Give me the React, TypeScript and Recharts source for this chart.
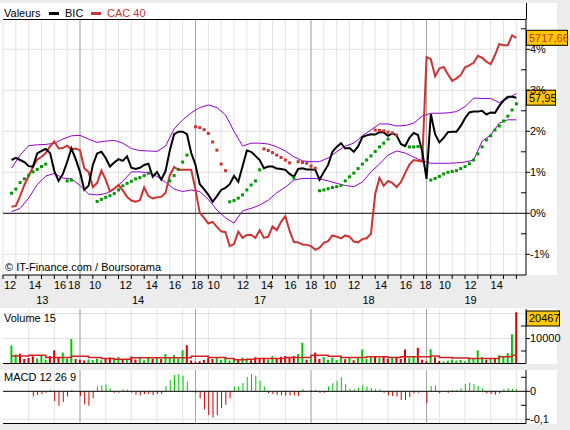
import React from "react";
import {
  ComposedChart,
  Line,
  Bar,
  Cell,
  Scatter,
  XAxis,
  YAxis,
  CartesianGrid,
  ReferenceLine,
} from "recharts";

const FONT = "'Liberation Sans', Arial, sans-serif";

// x is counted in trading hours from 12:00 on the 13th, one bar every 20 minutes
const BARS_PER_HOUR = 3;
const FIRST_BAR = 2;
const X_MAX = 40.75;

// % change since the start of the period
const bicPct = [
  1.3, 1.35, 1.3, 1.25, 1.15, 1.14, 1.46, 1.52, 1.57, 1.47,
  1.03, 0.79, 0.96, 1.25, 1.58, 1.32, 1.01, 0.57, 0.67, 1.18,
  1.46, 1.5, 1.35, 1.14, 1.24, 1.32, 1.28, 1.39, 1.11, 1.08,
  1.11, 1.18, 1.21, 0.89, 1.01, 0.82, 1.03, 1.54, 1.93, 1.99,
  1.99, 1.93, 1.47, 1.18, 0.71, 0.59, 0.45, 0.28, 0.42, 0.57,
  0.62, 0.71, 0.91, 0.77, 1.15, 1.53, 1.5, 1.4, 1.3, 1.1,
  1.14, 1.14, 1.09, 1.08, 1.06, 0.96, 0.89, 1.08, 1.1, 1.07,
  1.07, 1.06, 0.82, 1.01, 1.18, 1.5, 1.62, 1.71, 1.58, 1.59,
  1.5, 1.63, 1.86, 1.9, 1.93, 1.92, 1.98, 1.97, 1.89, 1.95,
  1.9, 1.69, 1.64, 1.84, 1.96, 1.91, 1.5, 0.84, 2.42, 1.93,
  1.73, 1.84, 1.98, 1.99, 1.99, 2.13, 2.32, 2.46, 2.48, 2.48,
  2.5, 2.41, 2.46, 2.45, 2.62, 2.75, 2.84, 2.84, 2.82,
];

const cacPct = [
  0.16, 0.18, 0.42, 0.69, 0.91, 1.13, 1.31, 1.38, 1.47, 1.63,
  1.75, 1.58, 1.59, 1.65, 1.56, 1.58, 1.54, 1.1, 1.01, 0.64,
  0.74, 1.04, 0.82, 0.53, 0.6, 0.69, 0.56, 0.4, 0.31, 0.28,
  0.32, 0.63, 0.42, 0.36, 0.39, 0.4, 0.5, 0.93, 1.13, 1.06,
  1.06, 1.06, 1.06, 0.57, 0.01, -0.11, -0.25, -0.21, -0.33, -0.44,
  -0.46, -0.8, -0.75, -0.45, -0.6, -0.53, -0.53, -0.6, -0.41, -0.6,
  -0.57, -0.32, -0.41, -0.21, -0.07, -0.43, -0.7, -0.71, -0.76, -0.77,
  -0.8, -0.89, -0.84, -0.72, -0.68, -0.54, -0.57, -0.61, -0.54, -0.57,
  -0.69, -0.71, -0.63, -0.61, -0.5, 0.47, 0.86, 0.67, 0.79, 0.74,
  0.64, 0.76, 0.98, 1.19, 1.3, 1.28, 1.26, 3.81, 3.76, 3.34,
  3.53, 3.57, 3.39, 3.23, 3.29, 3.37, 3.56, 3.61, 3.67, 3.84,
  3.79, 3.7, 3.64, 3.86, 4.13, 4.1, 4.1, 4.34, 4.28,
];

// Bollinger bands, one value every 2 bars
const bandUpper = [
  1.1, 1.42, 1.65, 1.67, 1.68, 1.71, 1.81, 1.89, 1.9, 1.81,
  1.73, 1.76, 1.78, 1.71, 1.58, 1.53, 1.52, 1.51, 1.64, 2.06,
  2.28, 2.45, 2.58, 2.64, 2.58, 2.4, 2.0, 1.64, 1.71, 1.71,
  1.69, 1.62, 1.52, 1.38, 1.28, 1.26, 1.26, 1.35, 1.5, 1.64,
  1.71, 1.89, 2.03, 2.18, 2.18, 2.13, 2.14, 2.2, 2.37, 2.44,
  2.44, 2.45, 2.48, 2.6, 2.81, 2.8, 2.8, 2.7, 2.8, 2.92,
];
const bandLower = [
  0.04, 0.12, 0.37, 0.7, 0.91, 0.97, 0.86, 0.84, 0.68, 0.47,
  0.45, 0.48, 0.6, 0.78, 1.01, 1.01, 0.98, 0.9, 0.76, 0.59,
  0.53, 0.57, 0.53, 0.34, 0.08, -0.11, -0.24, 0.06, 0.12, 0.2,
  0.32, 0.5, 0.64, 0.81, 0.85, 0.85, 0.84, 0.79, 0.73, 0.68,
  0.65, 0.76, 1.01, 1.2, 1.42, 1.52, 1.47, 1.37, 1.28, 1.22,
  1.22, 1.22, 1.23, 1.25, 1.3, 1.76, 1.91, 2.2, 2.28, 2.28,
];

// parabolic SAR, runs of bars below (green) and above (red) the price
const sarBelow = [
  { from: 2, vals: [0.49, 0.59, 0.75, 0.84, 0.93, 1.01, 1.07, 1.14, 1.2] },
  { from: 15, vals: [0.79, 0.81] },
  { from: 22, vals: [0.29, 0.34, 0.39, 0.43, 0.48, 0.57, 0.67, 0.73, 0.78, 0.84, 0.87, 0.92, 0.98] },
  { from: 39, vals: [0.79, 0.92, 1.07, 1.25, 1.42] },
  { from: 53, vals: [0.28, 0.31, 0.37, 0.45, 0.57, 0.69, 0.79, 1.06] },
  { from: 68, vals: [0.86] },
  {
    from: 74,
    vals: [0.55, 0.57, 0.6, 0.63, 0.65, 0.68, 0.79, 0.89, 0.98, 1.09, 1.2, 1.3, 1.4, 1.51, 1.62, 1.71, 1.81],
  },
  { from: 95, vals: [1.62, 1.62, 1.63] },
  {
    from: 100,
    vals: [0.81, 0.85, 0.9, 0.96, 1.0, 1.02, 1.04, 1.09, 1.14, 1.21, 1.3, 1.45, 1.62, 1.79, 1.89, 2.03, 2.13, 2.25, 2.37, 2.52, 2.67],
  },
];
const sarAbove = [
  { from: 45, vals: [2.11, 2.09, 2.04, 1.95, 1.74, 1.54, 1.2, 1.04] },
  { from: 61, vals: [1.57, 1.53, 1.48, 1.42, 1.36, 1.3, 1.23] },
  { from: 69, vals: [1.26, 1.24, 1.22, 1.15, 1.1] },
  { from: 87, vals: [2.03, 2.02, 2.01, 1.98, 1.96, 1.91] },
];

const volume = [
  7200, 3600, 3900, 1800, 2200, 2900, 2000, 3200, 1500, 3000,
  5300, 2300, 4400, 2000, 9800, 1800, 1500, 1200, 1600, 1400,
  2000, 1300, 1800, 2400, 1500, 2600, 1400, 1900, 2800, 1600,
  2200, 1300, 2700, 1900, 2400, 1800, 3800, 2500, 3300, 2000,
  5300, 7300, 1200, 600, 900, 1400, 2100, 1800, 2200, 1500,
  2600, 1200, 2000, 1700, 2400, 1900, 1300, 2500, 1800, 2300,
  1600, 2900, 2000, 2700, 3000, 2200, 3000, 3800, 8300, 1500,
  2000, 4400, 1800, 2600, 1500, 2400, 1400, 2800, 1700, 2500,
  1300, 2200, 5600, 1800, 2700, 3000, 2300, 2800, 1900, 2600,
  2400, 1800, 5600, 2200, 2800, 6300, 1500, 900, 5700, 2500,
  1000, 800, 1100, 1600, 1200, 1400, 900, 1800, 2000, 5300,
  2600, 1500, 2100, 1800, 3300, 2800, 4200, 11700, 20467,
];

const volumeAvg15 = [
  3000, 3000, 3000, 3000, 3300, 3300, 3300, 3300, 2400, 2400,
  2400, 2400, 2400, 2400, 2900, 2900, 2900, 2900, 2400, 2400,
  2400, 2000, 2000, 2000, 1700, 1700, 1700, 1700, 2300, 2300,
  2300, 2300, 2300, 2300, 2300, 2300, 2300, 2300, 2300, 2300,
  2300, 2300, 2900, 2900, 2900, 2900, 2400, 2400, 2400, 2400,
  2000, 2000, 1500, 1500, 1500, 1700, 1700, 2000, 2000, 2000,
  2000, 2000, 2000, 2000, 2400, 2400, 2400, 2400, 2400, 2400,
  3300, 3300, 3300, 3300, 2900, 2900, 2900, 2400, 2400, 2400,
  2400, 2400, 2400, 2700, 2700, 2700, 2700, 2700, 2400, 2400,
  2400, 2700, 2700, 2700, 2700, 2700, 2700, 2700, 3000, 3000,
  2400, 2400, 2400, 2200, 2200, 2200, 2200, 2000, 2000, 2000,
  2000, 2000, 2000, 2000, 2700, 2700, 2700, 3300, 4400,
];

const macdHist = [
  null, null, null, null, null, -0.019, -0.013, -0.01, -0.005, 0.005,
  -0.035, -0.052, -0.038, -0.019, 0.005, null, -0.017, -0.046, -0.052, -0.025,
  0.017, 0.021, 0.024, 0.01, -0.005, -0.005, 0.007, 0.006, -0.005, -0.012,
  -0.015, -0.01, -0.01, -0.013, -0.01, -0.01, 0.019, 0.04, 0.058, 0.062,
  0.056, 0.035, null, -0.005, -0.025, -0.065, -0.085, -0.094, -0.085, -0.06,
  -0.048, -0.025, 0.017, 0.017, 0.03, 0.052, 0.062, 0.056, 0.038, 0.017,
  -0.007, -0.01, -0.012, -0.014, -0.015, -0.015, -0.015, -0.017, 0.007, null,
  0.005, 0.005, -0.005, -0.005, 0.017, 0.029, 0.038, 0.05, 0.025, 0.008,
  0.007, 0.013, 0.023, 0.017, 0.013, 0.007, 0.007, -0.005, -0.015, -0.017,
  -0.019, -0.031, -0.031, -0.021, -0.008, -0.005, null, -0.043, 0.019, 0.02,
  -0.007, null, -0.005, 0.005, 0.005, 0.011, 0.026, 0.031, 0.026, 0.019,
  0.01, -0.007, -0.01, -0.012, -0.007, 0.007, 0.011, 0.008, 0.007,
];

const lastBic = "57,95";
const lastCac = "5717,66";
const lastVolume = "20467";

const hourTickPos = [
  0.55, 2.49, 4.45, 5.55, 7.17, 9.56, 11.59, 13.4, 15.12, 16.42, 18.7, 20.57,
  22.4, 24.01, 25.48, 27.35, 29.45, 31.4, 32.92, 34.42, 36.43, 38.47,
];
const hourTickText = [
  "12", "14", "16", "18", "10", "12", "14", "16", "18", "10", "12", "14",
  "16", "18", "10", "12", "14", "16", "18", "10", "12", "14",
];
const dayTickPos = [3.06, 10.52, 20.03, 28.48, 36.43];
const dayTickText = ["13", "14", "17", "18", "19"];
const dayBreaks = [6, 15, 24, 33];
const hourGrid = Array.from({ length: 41 }, (_, k) => k);
const xTicks = [...hourGrid, ...hourTickPos, ...dayTickPos];

const pctTicks = [-1, -0.5, 0, 0.5, 1, 1.5, 2, 2.5, 3, 3.5, 4, 4.5];
const volTicks = [5000, 10000, 15000];
const macdTicks = [-0.1, -0.05, 0, 0.05];

const GREEN = "#00c800";
const RED = "#d00000";
const CAC_RED = "#cc3333";
const PURPLE = "#9400d3";
const GRID = "#e2e2e2";
const DAY_GRID = "#a6a6a6";

const xOf = (i: number) => i / BARS_PER_HOUR;

const priceData = bicPct.map((v, k) => ({ x: xOf(FIRST_BAR + k), bic: v, cac: cacPct[k] }));
const bandData = bandUpper.map((v, k) => ({ x: xOf(FIRST_BAR + 2 * k), up: v, lo: bandLower[k] }));
const toDots = (runs: { from: number; vals: number[] }[]) =>
  runs.flatMap((r) => r.vals.map((v, k) => ({ x: xOf(r.from + k), y: v })));
const sarBelowDots = toDots(sarBelow);
const sarAboveDots = toDots(sarAbove);
const volData = volume.map((v, k) => ({
  x: xOf(FIRST_BAR + k),
  vol: v,
  ma: volumeAvg15[k],
  up: k === 0 || bicPct[k] >= bicPct[k - 1],
}));
const macdData = macdHist.map((v, k) => ({ x: xOf(FIRST_BAR + k), macd: v }));

const fmtNum = (v: number) => String(v).replace(".", ",");

function rightTick(isMajor: (v: number) => boolean, fmt: (v: number) => string) {
  return (props: any) => {
    const { x, y, payload } = props;
    const v = payload.value;
    if (isMajor(v)) {
      return (
        <g>
          <line x1={x} x2={x + 4} y1={y} y2={y} stroke="#000" />
          <text x={x + 4} y={y} dy="0.35em" fontSize={11} fontFamily={FONT} fill="#000">
            {fmt(v)}
          </text>
        </g>
      );
    }
    return <line x1={x - 5} x2={x} y1={y} y2={y} stroke="#000" />;
  };
}

// one axis carries the hour marks, the hour labels and the day labels
const nGrid = hourGrid.length;
const nHour = hourTickPos.length;
const timeTick = (props: any) => {
  const { x, y, index } = props;
  if (index < nGrid) return <line x1={x} x2={x} y1={y} y2={y + 4} stroke="#000" />;
  const isHour = index < nGrid + nHour;
  const label = isHour ? hourTickText[index - nGrid] : dayTickText[index - nGrid - nHour];
  return (
    <text
      x={x}
      y={y + (isHour ? 9.7 : 24.7)}
      dy="0.35em"
      textAnchor="middle"
      fontSize={11}
      fontFamily={FONT}
      fill="#000"
    >
      {label}
    </text>
  );
};

const ValueBox = (props: any) => {
  const { viewBox, text, color, w, minY } = props;
  if (!viewBox) return null;
  const x = viewBox.x + viewBox.width;
  const cy = minY !== undefined ? Math.max(viewBox.y, minY) : viewBox.y;
  return (
    <g>
      <rect x={x + 0.5} y={cy - 7.5} width={w} height={15} fill="#ffc800" stroke="#000" />
      <text x={x + 3} y={cy} dy="0.35em" fontSize={11} fontFamily={FONT} fill={color}>
        {text}
      </text>
    </g>
  );
};

const square = (color: string) => (p: any) =>
  <rect x={p.cx - 1.5} y={p.cy - 1.5} width={3} height={3} fill={color} />;

const abs = (left: number, top: number): React.CSSProperties => ({ position: "absolute", left, top });

export default function App() {
  return (
    <div
      style={{
        position: "absolute",
        left: 0,
        top: 0,
        width: 570,
        height: 430,
        background: "#ececec",
        overflow: "hidden",
        fontFamily: FONT,
      }}
    >
      <div style={{ ...abs(0, 3), width: 557, height: 272, background: "#fff" }} />
      <div style={{ ...abs(0, 308), width: 557, height: 56, background: "#fff" }} />
      <div style={{ ...abs(0, 370), width: 557, height: 54, background: "#fff" }} />

      {/* price panel */}
      <div style={abs(0, 0)}>
        <ComposedChart width={570} height={305} data={priceData} margin={{ top: 19, right: 0, bottom: 0, left: 3 }}>
          <CartesianGrid stroke={GRID} verticalValues={hourGrid} horizontalValues={[-1, 1, 2, 3, 4]} />
          <CartesianGrid stroke={DAY_GRID} horizontal={false} verticalValues={dayBreaks} />
          <XAxis
            dataKey="x"
            type="number"
            domain={[0, X_MAX]}
            allowDataOverflow
            ticks={xTicks}
            interval={0}
            tickLine={false}
            tickSize={0}
            tickMargin={0}
            tick={timeTick}
            height={30}
            stroke="#000"
          />
          <YAxis
            orientation="right"
            type="number"
            domain={[-1.505, 4.739]}
            allowDataOverflow
            ticks={pctTicks}
            interval={0}
            width={44}
            tickLine={false}
            tickSize={0}
            tickMargin={0}
            stroke="#000"
            tick={rightTick((v) => Number.isInteger(v), (v) => `${v}%`)}
          />
          <ReferenceLine y={0} stroke="#000" />
          <Line data={bandData} dataKey="up" stroke={PURPLE} strokeWidth={1} dot={false} activeDot={false} isAnimationActive={false} />
          <Line data={bandData} dataKey="lo" stroke={PURPLE} strokeWidth={1} dot={false} activeDot={false} isAnimationActive={false} />
          <Line dataKey="cac" stroke={CAC_RED} strokeWidth={2} dot={false} activeDot={false} isAnimationActive={false} />
          <Line dataKey="bic" stroke="#000" strokeWidth={2} dot={false} activeDot={false} isAnimationActive={false} />
          <Scatter data={sarBelowDots} dataKey="y" shape={square("#009900")} isAnimationActive={false} />
          <Scatter data={sarAboveDots} dataKey="y" shape={square(CAC_RED)} isAnimationActive={false} />
          <ReferenceLine
            y={bicPct[bicPct.length - 1]}
            stroke="none"
            label={<ValueBox text={lastBic} color="#000" w={29} />}
          />
          <ReferenceLine
            y={cacPct[cacPct.length - 1]}
            stroke="none"
            label={<ValueBox text={lastCac} color={CAC_RED} w={41} />}
          />
        </ComposedChart>
      </div>

      {/* volume panel */}
      <div style={abs(0, 305)}>
        <ComposedChart width={570} height={58.5} data={volData} margin={{ top: 4, right: 0, bottom: 0, left: 3 }}>
          <CartesianGrid stroke={GRID} verticalValues={hourGrid} horizontalValues={[10000, 20000]} />
          <CartesianGrid stroke={DAY_GRID} horizontal={false} verticalValues={dayBreaks} />
          <XAxis dataKey="x" type="number" domain={[0, X_MAX]} allowDataOverflow hide />
          <YAxis
            orientation="right"
            type="number"
            domain={[0, 21800]}
            allowDataOverflow
            ticks={volTicks}
            interval={0}
            width={44}
            tickLine={false}
            tickSize={0}
            tickMargin={0}
            stroke="#000"
            tick={rightTick((v) => v % 10000 === 0, (v) => String(v))}
          />
          <Bar dataKey="vol" barSize={2} isAnimationActive={false}>
            {volData.map((d, k) => (
              <Cell key={k} fill={d.up ? GREEN : RED} />
            ))}
          </Bar>
          <Line type="stepAfter" dataKey="ma" stroke="#d42020" strokeWidth={1.5} dot={false} activeDot={false} isAnimationActive={false} />
          <ReferenceLine y={0} stroke="#000" />
          <ReferenceLine
            y={volume[volume.length - 1]}
            stroke="none"
            label={<ValueBox text={lastVolume} color="#000" w={33} minY={318.5 - 305} />}
          />
        </ComposedChart>
      </div>

      {/* MACD panel */}
      <div style={abs(0, 368)}>
        <ComposedChart width={570} height={62} data={macdData} margin={{ top: 2, right: 0, bottom: 6.5, left: 3 }}>
          <CartesianGrid stroke={GRID} verticalValues={hourGrid} horizontalValues={[-0.1]} />
          <CartesianGrid stroke={DAY_GRID} horizontal={false} verticalValues={dayBreaks} />
          <XAxis dataKey="x" type="number" domain={[0, X_MAX]} allowDataOverflow hide />
          <YAxis
            orientation="right"
            type="number"
            domain={[-0.115, 0.0761]}
            allowDataOverflow
            ticks={macdTicks}
            interval={0}
            width={44}
            tickLine={false}
            tickSize={0}
            tickMargin={0}
            stroke="#000"
            tick={rightTick((v) => Math.abs(v * 10 - Math.round(v * 10)) < 1e-9, fmtNum)}
          />
          <Bar dataKey="macd" barSize={1} isAnimationActive={false}>
            {macdData.map((d, k) => (
              <Cell key={k} fill={(d.macd ?? 0) >= 0 ? GREEN : RED} />
            ))}
          </Bar>
          <ReferenceLine y={0} stroke="#000" />
          <ReferenceLine y={-0.115} stroke="#000" />
        </ComposedChart>
      </div>

      {/* fixed texts and frame pieces */}
      <div style={{ ...abs(3, 19), width: 523, height: 1, background: "#000" }} />
      <div style={{ ...abs(526, 3), width: 1, height: 16, background: "#000" }} />
      <svg width={570} height={430} style={{ ...abs(0, 0), pointerEvents: "none" }}>
        <g fontFamily={FONT} fontSize={11}>
          <text x={4} y={17}>Valeurs</text>
          <rect x={49} y={12} width={10} height={3} fill="#000" />
          <text x={65} y={17}>BIC</text>
          <rect x={91} y={12} width={10} height={3} fill={CAC_RED} />
          <text x={107} y={17} fill={CAC_RED}>CAC 40</text>
          <text x={5} y={270.5}>© IT-Finance.com / Boursorama</text>
          <text x={4} y={321.5}>Volume 15</text>
          <text x={4} y={381}>MACD 12 26 9</text>
        </g>
      </svg>
    </div>
  );
}
